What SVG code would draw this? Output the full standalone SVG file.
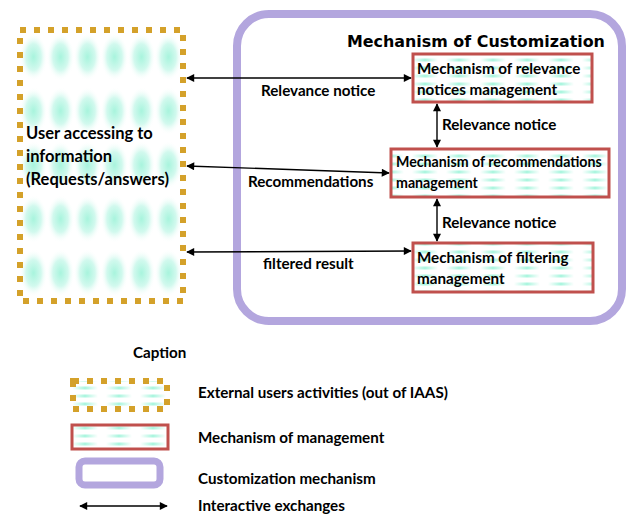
<svg xmlns="http://www.w3.org/2000/svg" width="630" height="516" viewBox="0 0 630 516">
<style>
.t{font-family:Lato,"Liberation Sans",sans-serif;font-weight:bold;fill:#000;font-size:15.2px}
.title{font-family:"DejaVu Sans",Verdana,sans-serif;font-weight:bold;font-size:15.9px;fill:#000}
.ext{stroke:#D4A12A;stroke-width:6;fill:url(#blob);stroke-dasharray:6 8}
.mgr{stroke:#C0504D;stroke-width:3;fill:url(#dash)}
.cust{stroke:#B3A6DE;stroke-width:8;fill:none}
.conn{stroke:#000;stroke-width:1.4;fill:none;marker-start:url(#ah);marker-end:url(#ah)}
</style>
<defs>
<radialGradient id="bg1" cx="0.5" cy="0.5" r="0.5">
<stop offset="0" stop-color="#A8F4DD"/>
<stop offset="0.55" stop-color="#D2F9EE"/>
<stop offset="1" stop-color="#FFFFFF" stop-opacity="0"/>
</radialGradient>
<linearGradient id="dg" x1="0" y1="0" x2="1" y2="0">
<stop offset="0" stop-color="#A9F5DE" stop-opacity="0"/>
<stop offset="0.5" stop-color="#A9F5DE"/>
<stop offset="1" stop-color="#A9F5DE" stop-opacity="0"/>
</linearGradient>
<pattern id="blob" patternUnits="userSpaceOnUse" x="20" y="30" width="27" height="54">
<rect width="27" height="54" fill="#FFFFFF"/>
<ellipse cx="13.5" cy="27" rx="14" ry="24" fill="url(#bg1)"/>
</pattern>
<pattern id="dash" patternUnits="userSpaceOnUse" x="0" y="0" width="34" height="8">
<rect width="34" height="8" fill="#FFFFFF"/>
<rect x="4" y="2.5" width="26" height="3" fill="url(#dg)"/>
</pattern>
<marker id="ah" viewBox="0 0 10 10" refX="9" refY="5" markerWidth="9" markerHeight="8" markerUnits="userSpaceOnUse" orient="auto-start-reverse">
<path d="M0,0 L10,5 L0,10 Z" fill="#000"/>
</marker>
</defs>

<g id="customization">
<rect class="cust" x="237" y="14" width="385" height="307" rx="32"/>
<text class="title" x="347" y="47">Mechanism of Customization</text>
</g>

<g id="user">
<rect class="ext" x="20" y="30" width="163" height="271"/>
<text class="t" style="font-size:16.5px" x="26" y="139">User accessing to</text>
<text class="t" style="font-size:16.5px" x="26" y="162">information</text>
<text class="t" style="font-size:16.5px" x="26" y="185">(Requests/answers)</text>
</g>

<g id="relevance">
<rect class="mgr" x="413" y="54" width="179" height="48"/>
<text class="t" x="417" y="74">Mechanism of relevance</text>
<text class="t" x="417" y="95">notices management</text>
</g>

<g id="recommendations">
<rect class="mgr" x="391" y="149" width="218" height="48"/>
<text class="t" style="font-size:14.2px" x="396" y="167">Mechanism of recommendations</text>
<text class="t" style="font-size:14.2px" x="396" y="188">management</text>
</g>

<g id="filtering">
<rect class="mgr" x="413" y="243" width="180" height="49"/>
<text class="t" x="417" y="263">Mechanism of filtering</text>
<text class="t" x="417" y="284">management</text>
</g>

<g id="connectors">
<line class="conn" x1="187" y1="78" x2="411" y2="78"/>
<line class="conn" x1="187" y1="166" x2="389" y2="173"/>
<line class="conn" x1="187" y1="252" x2="411" y2="251"/>
<line class="conn" x1="437" y1="104" x2="437" y2="147"/>
<line class="conn" x1="437" y1="199" x2="437" y2="241"/>
<text class="t" x="261" y="96">Relevance notice</text>
<text class="t" x="248" y="187">Recommendations</text>
<text class="t" x="263" y="269">filtered result</text>
<text class="t" x="442" y="130">Relevance notice</text>
<text class="t" x="442" y="228">Relevance notice</text>
</g>

<g id="legend">
<text class="t" x="133" y="358">Caption</text>
<rect class="ext" x="73" y="381" width="94" height="28" style="fill:url(#dash)"/>
<text class="t" x="198" y="398">External users activities (out of IAAS)</text>
<rect class="mgr" x="72" y="425" width="96" height="24"/>
<text class="t" x="198" y="443">Mechanism of management</text>
<rect class="cust" x="79" y="461" width="81" height="24" rx="6" style="stroke-width:7"/>
<text class="t" x="198" y="484">Customization mechanism</text>
<line class="conn" x1="80" y1="506" x2="167" y2="506"/>
<text class="t" x="198" y="511">Interactive exchanges</text>
</g>
</svg>
